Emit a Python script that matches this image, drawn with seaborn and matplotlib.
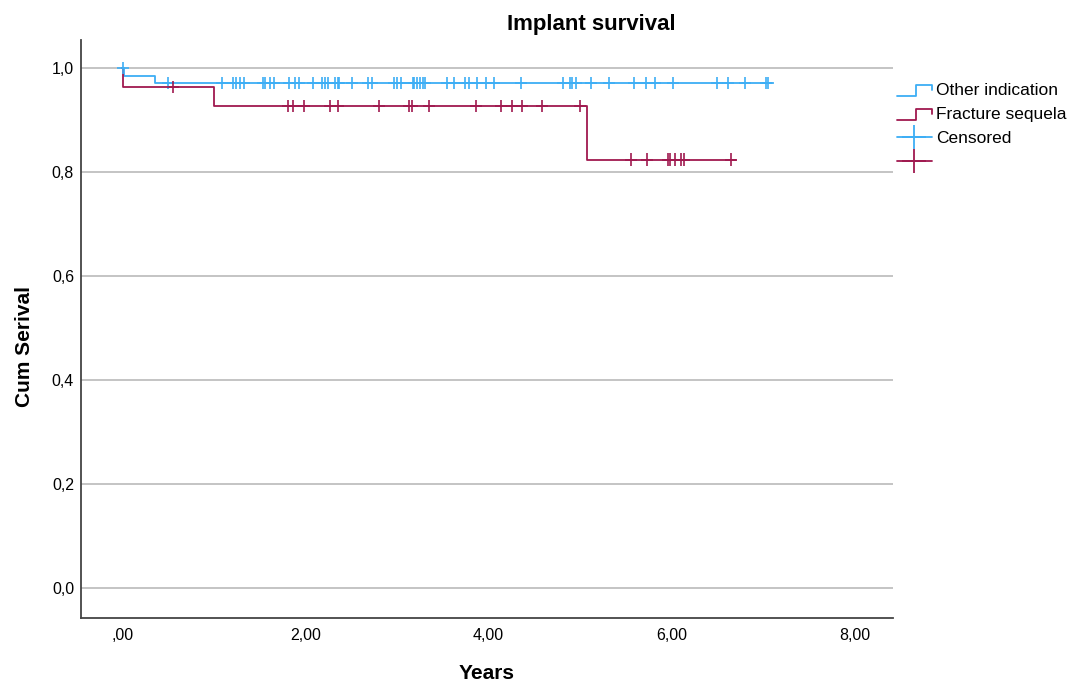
import matplotlib
matplotlib.use('Agg')
import matplotlib.pyplot as plt
from matplotlib.lines import Line2D
from matplotlib.legend_handler import HandlerBase
import seaborn as sns
import numpy as np
import pandas as pd

# Kaplan-Meier steps: time of each drop and survival after it
other_times = [0.00, 0.02, 0.35]
other_surv = [1.000, 0.985, 0.971]
other_end = 7.10
fract_times = [0.00, 0.01, 1.00, 5.07]
fract_surv = [1.000, 0.963, 0.927, 0.824]
fract_end = 6.70

# censored cases
other_censored = [0.01, 0.50, 1.09, 1.21, 1.24, 1.28, 1.33, 1.53, 1.56, 1.61, 1.66,
                  1.82, 1.89, 1.93, 2.08, 2.18, 2.21, 2.25, 2.32, 2.35, 2.37, 2.51,
                  2.68, 2.73, 2.97, 3.00, 3.04, 3.17, 3.19, 3.22, 3.25, 3.28, 3.31,
                  3.55, 3.62, 3.74, 3.79, 3.87, 3.97, 4.06, 4.35, 4.81, 4.89, 4.91,
                  4.95, 5.12, 5.31, 5.59, 5.72, 5.82, 6.01, 6.49, 6.61, 6.80, 7.03, 7.05]
fract_censored = [0.55, 1.81, 1.86, 1.98, 2.27, 2.35, 2.80, 3.13, 3.16, 3.35, 3.86,
                  4.14, 4.25, 4.36, 4.58, 5.00, 5.56, 5.73, 5.96, 5.98, 6.04, 6.10,
                  6.13, 6.65]

groups = ['Other indication', 'Fracture sequela']
colors = {'Other indication': '#3DAEF5', 'Fracture sequela': '#A0194F'}

x_ticks = [0, 2, 4, 6, 8]
x_tick_labels = [',00', '2,00', '4,00', '6,00', '8,00']
y_ticks = [0.0, 0.2, 0.4, 0.6, 0.8, 1.0]
y_tick_labels = ['0,0', '0,2', '0,4', '0,6', '0,8', '1,0']


def step_frame(name, times, surv, end):
    t = list(times) + [end]
    s = list(surv) + [surv[-1]]
    return pd.DataFrame({'group': name, 'time': t, 'surv': s})


def censor_frame(name, times, surv, cens):
    idx = np.searchsorted(times, cens, side='right') - 1
    return pd.DataFrame({'group': name, 'time': cens, 'surv': np.array(surv)[idx]})


steps = pd.concat([step_frame(groups[0], other_times, other_surv, other_end),
                   step_frame(groups[1], fract_times, fract_surv, fract_end)])
cens = pd.concat([censor_frame(groups[0], other_times, other_surv, other_censored),
                  censor_frame(groups[1], fract_times, fract_surv, fract_censored)])


class StepHandler(HandlerBase):
    def create_artists(self, legend, orig_handle, xdescent, ydescent,
                       width, height, fontsize, trans):
        x0, y0 = -xdescent, -ydescent
        xs = [x0, x0 + 0.55 * width, x0 + 0.55 * width, x0 + width, x0 + width]
        ys = [y0 - 0.1 * height, y0 - 0.1 * height, y0 + 0.8 * height,
              y0 + 0.8 * height, y0 + 0.4 * height]
        line = Line2D(xs, ys, color=orig_handle.get_color(),
                      lw=orig_handle.get_linewidth())
        line.set_transform(trans)
        return [line]


sns.set_theme(style='white')
plt.rcParams['font.family'] = ['Liberation Sans', 'DejaVu Sans']

fig = plt.figure(figsize=(10.67, 6.84), dpi=100)
ax = fig.add_axes([81 / 1067, 66 / 684, 812 / 1067, 578 / 684])

ax.yaxis.grid(True, color='#b4b4b4', linewidth=1.1)
ax.set_axisbelow(True)

sns.lineplot(data=steps, x='time', y='surv', hue='group', palette=colors,
             estimator=None, sort=False, drawstyle='steps-post',
             linewidth=1.3, legend=False, ax=ax)
sns.scatterplot(data=cens, x='time', y='surv', hue='group', palette=colors,
                marker='+', s=75, linewidth=1.2, legend=False, ax=ax, zorder=3)

ax.set_xlim(-0.453, 8.417)
ax.set_ylim(-0.0577, 1.0538)
ax.set_xticks(x_ticks)
ax.set_xticklabels(x_tick_labels)
ax.set_yticks(y_ticks)
ax.set_yticklabels(y_tick_labels)
ax.tick_params(axis='both', length=0, labelsize=11.5, colors='black')
ax.tick_params(axis='x', pad=7)
ax.tick_params(axis='y', pad=5)

for side in ['top', 'right']:
    ax.spines[side].set_visible(False)
for side in ['left', 'bottom']:
    ax.spines[side].set_color('#444444')
    ax.spines[side].set_linewidth(1.3)

ax.set_title('Implant survival', fontsize=16, fontweight='bold', x=0.629, pad=7,
             color='black')
ax.set_xlabel('Years', fontsize=15, fontweight='bold', labelpad=15, color='black')
ax.set_ylabel('Cum Serival', fontsize=15, fontweight='bold', color='black')
ax.yaxis.set_label_coords(-0.058, 0.469)

handles = [Line2D([], [], color=colors[groups[0]], lw=1.3),
           Line2D([], [], color=colors[groups[1]], lw=1.3),
           Line2D([], [], color=colors[groups[0]], lw=1.3, marker='+', markersize=17,
                  markeredgewidth=1.3),
           Line2D([], [], color=colors[groups[1]], lw=1.3, marker='+', markersize=17,
                  markeredgewidth=1.3)]
labels = ['Other indication', 'Fracture sequela', 'Censored', '']
leg = fig.legend(handles, labels, loc='upper left',
                 bbox_to_anchor=(897 / 1067, 601 / 684),
                 frameon=False, fontsize=12.5, handlelength=2.0, handletextpad=0.25,
                 labelspacing=0.5, borderpad=0, borderaxespad=0,
                 handler_map={handles[0]: StepHandler(), handles[1]: StepHandler()})
for t in leg.get_texts():
    t.set_color('black')

fig.savefig('out.png', dpi=100)
